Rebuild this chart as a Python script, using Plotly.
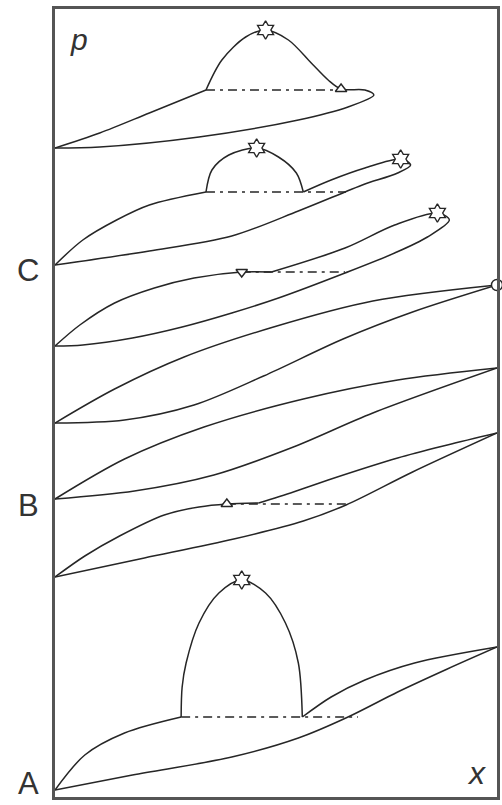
import plotly.graph_objects as go

# Schematic p–x phase diagram: composition x (0..445) vs pressure p (0..788),
# arbitrary units. Each curve is a list of (x, p) read points, smoothed as splines.

# --- lowest system (starting at A) ---
a_upper_x = [0, 30, 70, 127]
a_upper_p = [7, 42, 64, 80]
a_dome_x = [127, 128, 132, 145, 165, 188, 212, 232, 245, 249]
a_dome_p = [80, 110, 134, 174, 204, 217, 204, 174, 134, 80]
a_lower_x = [0, 78, 178, 245, 295, 345, 395, 445]
a_lower_p = [7, 22, 40, 59, 80, 105, 128, 150]
a_right_x = [249, 278, 312, 362, 445]
a_right_p = [80, 100, 117, 134, 150]
a_tie_x = [127, 305]
a_tie_p = [80, 80]

# --- lens below B with three-phase line ---
b2_left_x = [0, 30, 65, 110, 145, 173, 205]
b2_left_p = [220, 241, 261, 282, 290, 293, 294]
b2_right_x = [205, 240, 275, 345, 395, 445]
b2_right_p = [294, 305, 317, 339, 352, 364]
b2_lower_x = [0, 90, 180, 250, 293, 360, 445]
b2_lower_p = [220, 239, 258, 276, 292, 325, 364]
b2_tie_x = [173, 293]
b2_tie_p = [293, 293]

# --- lens from B ---
b_upper_x = [0, 70, 150, 250, 345, 445]
b_upper_p = [298, 338, 370, 398, 417, 429]
b_lower_x = [0, 80, 160, 240, 320, 445]
b_lower_p = [298, 306, 322, 350, 384, 429]

# --- lens ending in the azeotrope on the right ---
m_upper_x = [0, 60, 130, 220, 320, 445]
m_upper_p = [374, 408, 440, 470, 496, 512]
m_lower_x = [0, 70, 140, 210, 290, 360, 445]
m_lower_p = [374, 377, 392, 421, 458, 485, 512]

# --- lens with critical end point ---
k_left_x = [0, 25, 60, 100, 140, 188, 218]
k_left_p = [451, 472, 494, 509, 519, 525, 525]
k_loop_x = [218, 292, 342, 385, 397, 375, 342, 292, 225, 178, 128, 78, 28, 0]
k_loop_p = [525, 549, 572, 584, 577, 560, 544, 524, 499, 484, 470, 459, 452, 451]
k_tie_x = [188, 292]
k_tie_p = [525, 525]

# --- system from C ---
c_upper_x = [0, 28, 62, 95, 152]
c_upper_p = [532, 557, 577, 592, 605]
c_dome_x = [152, 158, 175, 203, 225, 243, 250]
c_dome_p = [605, 627, 642, 649, 640, 624, 605]
c_loop_x = [250, 278, 312, 348, 358, 345, 312, 292, 245, 178, 95, 0]
c_loop_p = [605, 617, 629, 638, 632, 624, 613, 605, 586, 561, 546, 532]
c_tie_x = [152, 293]
c_tie_p = [605, 605]

# --- top system ---
t_upper_x = [0, 45, 95, 152]
t_upper_p = [649, 664, 684, 707]
t_loop_x = [152, 168, 192, 212, 235, 258, 275, 288, 312, 321, 295, 245, 145, 45, 0]
t_loop_p = [707, 737, 760, 767, 757, 734, 717, 708, 707, 702, 690, 677, 660, 650, 649]
t_tie_x = [152, 288]
t_tie_p = [707, 707]

# special points
star_x = [212, 203, 348, 385, 188]
star_p = [767, 649, 638, 584, 217]
tri_up_x = [288, 173]
tri_up_p = [708, 293]
tri_dn_x = [188]
tri_dn_p = [525]
azeo_x = [445]
azeo_p = [512]

INK = "#262626"
X_SPAN, P_SPAN = 445, 788
fig = go.Figure()


def curve(xs, ps, dash="solid"):
    fig.add_trace(go.Scatter(
        x=xs, y=ps, mode="lines",
        line=dict(color=INK, width=1.5, shape="spline" if dash == "solid" else "linear",
                  smoothing=0.9, dash=dash),
        hoverinfo="skip", showlegend=False, cliponaxis=False))


TIE = "9px,5px,3px,5px"
for xs, ps in [(a_upper_x, a_upper_p), (a_dome_x, a_dome_p), (a_lower_x, a_lower_p),
               (a_right_x, a_right_p), (b2_left_x, b2_left_p), (b2_right_x, b2_right_p),
               (b2_lower_x, b2_lower_p), (b_upper_x, b_upper_p), (b_lower_x, b_lower_p),
               (m_upper_x, m_upper_p), (m_lower_x, m_lower_p),
               (k_left_x, k_left_p), (k_loop_x, k_loop_p),
               (c_upper_x, c_upper_p), (c_dome_x, c_dome_p), (c_loop_x, c_loop_p),
               (t_upper_x, t_upper_p), (t_loop_x, t_loop_p)]:
    curve(xs, ps)
for xs, ps in [(a_tie_x, a_tie_p), (b2_tie_x, b2_tie_p), (k_tie_x, k_tie_p),
               (c_tie_x, c_tie_p), (t_tie_x, t_tie_p)]:
    curve(xs, ps, TIE)


def points(xs, ps, symbol, size):
    fig.add_trace(go.Scatter(
        x=xs, y=ps, mode="markers",
        marker=dict(symbol=symbol, size=size, color="white", line=dict(color=INK, width=1.4)),
        hoverinfo="skip", showlegend=False, cliponaxis=False))


points(star_x, star_p, "hexagram", 14)
points(tri_up_x, tri_up_p, "triangle-up", 10)
points(tri_dn_x, tri_dn_p, "triangle-down", 10)
points(azeo_x, azeo_p, "circle", 11)

# (text, x, p, italic, size, vertical anchor)
labels = [("A", -27, -6, False, 31, "bottom"), ("B", -27, 291, False, 31, "middle"),
          ("C", -27, 527, False, 31, "middle"),
          ("p", 24, 757, True, 30, "middle"), ("x", 424, 24, True, 32, "middle")]
for txt, lx, lp, it, sz, ya in labels:
    fig.add_annotation(
        x=lx / X_SPAN, y=lp / P_SPAN, xref="paper", yref="paper",
        xanchor="center", yanchor=ya,
        text=f"<i>{txt}</i>" if it else txt,
        showarrow=False, font=dict(family="Liberation Sans, Arial, sans-serif",
                                   size=sz, color="#333333"))

axis = dict(showgrid=False, zeroline=False, showticklabels=False, ticks="",
            showline=True, mirror=True, linecolor="#555555", linewidth=2.5)
fig.update_layout(
    width=502, height=805, margin=dict(l=55, r=2, t=9, b=8),
    paper_bgcolor="white", plot_bgcolor="white",
    xaxis=dict(range=[0, X_SPAN], **axis),
    yaxis=dict(range=[0, P_SPAN], **axis),
)

fig.write_html("out.html")
